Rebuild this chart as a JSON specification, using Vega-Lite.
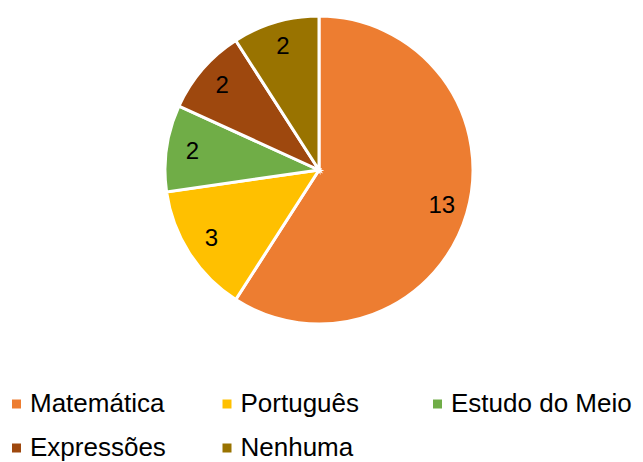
{
  "$schema": "https://vega.github.io/schema/vega-lite/v6.json",
  "width": 638,
  "height": 340,
  "padding": 0,
  "background": "white",
  "data": {"values": [
    {"disciplina": "Matemática", "n": 13, "ordem": 1},
    {"disciplina": "Português", "n": 3, "ordem": 2},
    {"disciplina": "Estudo do Meio", "n": 2, "ordem": 3},
    {"disciplina": "Expressões", "n": 2, "ordem": 4},
    {"disciplina": "Nenhuma", "n": 2, "ordem": 5}
  ]},
  "encoding": {
    "theta": {"field": "n", "type": "quantitative", "stack": true},
    "order": {"field": "ordem", "type": "quantitative", "sort": "ascending"}
  },
  "layer": [
    {
      "mark": {"type": "arc", "radius": 154, "stroke": "white", "strokeWidth": 3},
      "encoding": {
        "color": {
          "field": "disciplina", "type": "nominal",
          "scale": {
            "domain": ["Matemática", "Português", "Estudo do Meio", "Expressões", "Nenhuma"],
            "range": ["#ED7D31", "#FFC000", "#70AD47", "#9E480E", "#997300"]
          },
          "legend": {
            "title": null,
            "orient": "none",
            "legendX": 3.5,
            "legendY": 391,
            "direction": "horizontal",
            "columns": 3,
            "gridAlign": "all",
            "columnPadding": 2.5,
            "rowPadding": 18,
            "symbolType": "square",
            "symbolSize": 81,
            "symbolStrokeWidth": 0,
            "labelOffset": 0.5,
            "labelFont": "Liberation Sans",
            "labelFontSize": 26,
            "labelColor": "black",
            "labelLimit": 400,
            "padding": 0
          }
        }
      }
    },
    {
      "mark": {"type": "text", "radius": 128, "fontSize": 24, "font": "Liberation Sans", "color": "black"},
      "encoding": {"text": {"field": "n", "type": "quantitative"}}
    }
  ],
  "config": {"view": {"stroke": null}}
}
